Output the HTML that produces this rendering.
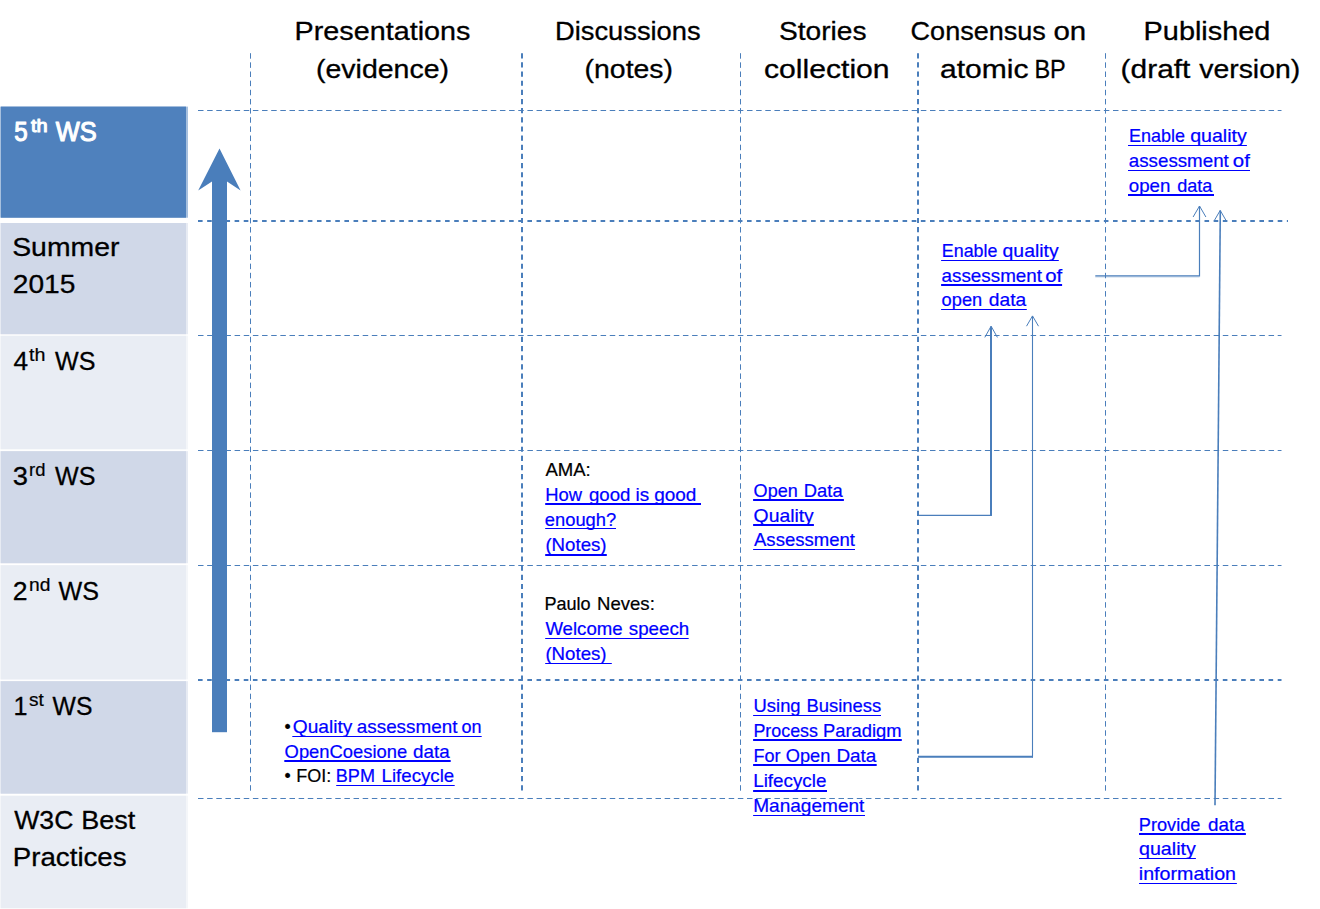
<!DOCTYPE html>
<html><head><meta charset="utf-8"><title>Workshop roadmap</title>
<style>html,body{margin:0;padding:0;background:#fff;}body{width:1320px;height:909px;overflow:hidden;}svg{display:block;}text{font-family:"Liberation Sans",sans-serif;}</style>
</head><body>
<svg width="1320" height="909" viewBox="0 0 1320 909">
<rect x="0" y="0" width="1320" height="909" fill="#ffffff"/>
<rect x="0" y="106.6" width="188" height="111.1" fill="#4F81BD" opacity="0.5"/>
<rect x="1" y="106.6" width="185" height="111.1" fill="#4F81BD"/>
<rect x="0" y="223.0" width="188" height="111.2" fill="#D0D8E8" opacity="0.5"/>
<rect x="1" y="223.0" width="185" height="111.2" fill="#D0D8E8"/>
<rect x="0" y="335.8" width="188" height="113.4" fill="#E9EDF4" opacity="0.5"/>
<rect x="1" y="335.8" width="185" height="113.4" fill="#E9EDF4"/>
<rect x="0" y="451.2" width="188" height="112.0" fill="#D0D8E8" opacity="0.5"/>
<rect x="1" y="451.2" width="185" height="112.0" fill="#D0D8E8"/>
<rect x="0" y="565.2" width="188" height="114.2" fill="#E9EDF4" opacity="0.5"/>
<rect x="1" y="565.2" width="185" height="114.2" fill="#E9EDF4"/>
<rect x="0" y="681.2" width="188" height="112.4" fill="#D0D8E8" opacity="0.5"/>
<rect x="1" y="681.2" width="185" height="112.4" fill="#D0D8E8"/>
<rect x="0" y="795.8" width="188" height="112.4" fill="#E9EDF4" opacity="0.5"/>
<rect x="1" y="795.8" width="185" height="112.4" fill="#E9EDF4"/>
<line x1="198" y1="110.5" x2="1281.5" y2="110.5" stroke="#4A7EBB" stroke-width="1" stroke-dasharray="5.5 3.65"/>
<line x1="198" y1="221" x2="1288" y2="221" stroke="#4A7EBB" stroke-width="2" stroke-dasharray="4.6 4.55"/>
<line x1="198" y1="335.5" x2="1281.5" y2="335.5" stroke="#4A7EBB" stroke-width="1" stroke-dasharray="5.5 3.65"/>
<line x1="198" y1="450.5" x2="1281.5" y2="450.5" stroke="#4A7EBB" stroke-width="1" stroke-dasharray="5.5 3.65"/>
<line x1="198" y1="565.5" x2="1281.5" y2="565.5" stroke="#4A7EBB" stroke-width="1" stroke-dasharray="5.5 3.65"/>
<line x1="198" y1="680" x2="1281.5" y2="680" stroke="#4A7EBB" stroke-width="2" stroke-dasharray="4.6 4.55"/>
<line x1="198" y1="798.5" x2="1281.5" y2="798.5" stroke="#4A7EBB" stroke-width="1" stroke-dasharray="5.5 3.65"/>
<line x1="250.5" y1="53.2" x2="250.5" y2="791.6" stroke="#4A7EBB" stroke-width="1" stroke-dasharray="5.5 3.65"/>
<line x1="522" y1="53.2" x2="522" y2="791.6" stroke="#4A7EBB" stroke-width="2" stroke-dasharray="5.2 3.95"/>
<line x1="740.5" y1="53.2" x2="740.5" y2="791.6" stroke="#4A7EBB" stroke-width="1" stroke-dasharray="5.5 3.65"/>
<line x1="918" y1="53.2" x2="918" y2="791.6" stroke="#4A7EBB" stroke-width="2" stroke-dasharray="5.2 3.95"/>
<line x1="1105.5" y1="53.2" x2="1105.5" y2="791.6" stroke="#4A7EBB" stroke-width="1" stroke-dasharray="5.5 3.65"/>
<rect x="212" y="180" width="15" height="552.2" fill="#4A7EBB"/>
<polygon points="219.5,148.5 240.6,190.4 227,181.4 212,181.4 198.2,190.4" fill="#4A7EBB"/>
<polyline points="1095.3,275.9 1199.5,275.9 1199.5,206" fill="none" stroke="#4A7EBB" stroke-width="1.2"/>
<line x1="1095.3" y1="277" x2="1199.5" y2="277" stroke="#4A7EBB" stroke-width="1" opacity="0.3"/>
<polyline points="1193.1,217 1199.5,206 1205.9,217" fill="none" stroke="#4A7EBB" stroke-width="1"/>
<line x1="1215" y1="805.3" x2="1220.3" y2="210.5" stroke="#4A7EBB" stroke-width="1.6"/>
<polyline points="1214.4,220.4 1220.2,210.4 1226.0,220.4" fill="none" stroke="#4A7EBB" stroke-width="1"/>
<line x1="917" y1="515.3" x2="991.8" y2="515.3" stroke="#4A7EBB" stroke-width="1.2"/>
<line x1="991" y1="515.8" x2="991" y2="326.5" stroke="#4A7EBB" stroke-width="2"/>
<polyline points="984.8000000000001,337.4 991.1,326.2 997.4,337.4" fill="none" stroke="#4A7EBB" stroke-width="1"/>
<line x1="918" y1="756.7" x2="1033" y2="756.7" stroke="#4A7EBB" stroke-width="2"/>
<line x1="1032.5" y1="757.5" x2="1032.5" y2="316" stroke="#4A7EBB" stroke-width="1.1"/>
<polyline points="1026.5,326.2 1032.5,315.9 1038.5,326.2" fill="none" stroke="#4A7EBB" stroke-width="1"/>
<text id="t0" x="294.60" y="40.00" font-size="25.8" fill="#000000" stroke="#000000" stroke-width="0.3" stroke-linejoin="round" textLength="175.80" lengthAdjust="spacingAndGlyphs">Presentations</text>
<text id="t1" x="316.00" y="77.60" font-size="25.8" fill="#000000" stroke="#000000" stroke-width="0.3" stroke-linejoin="round" textLength="133.00" lengthAdjust="spacingAndGlyphs">(evidence)</text>
<text id="t2" x="555.00" y="40.00" font-size="25.8" fill="#000000" stroke="#000000" stroke-width="0.3" stroke-linejoin="round" textLength="145.60" lengthAdjust="spacingAndGlyphs">Discussions</text>
<text id="t3" x="584.60" y="77.60" font-size="25.8" fill="#000000" stroke="#000000" stroke-width="0.3" stroke-linejoin="round" textLength="88.40" lengthAdjust="spacingAndGlyphs">(notes)</text>
<text id="t4" x="779.00" y="40.00" font-size="25.8" fill="#000000" stroke="#000000" stroke-width="0.3" stroke-linejoin="round" textLength="87.60" lengthAdjust="spacingAndGlyphs">Stories</text>
<text id="t5" x="764.00" y="77.60" font-size="25.8" fill="#000000" stroke="#000000" stroke-width="0.3" stroke-linejoin="round" textLength="125.60" lengthAdjust="spacingAndGlyphs">collection</text>
<text id="t6" x="910.60" y="40.00" font-size="25.8" fill="#000000" stroke="#000000" stroke-width="0.3" stroke-linejoin="round" textLength="135.20" lengthAdjust="spacingAndGlyphs">Consensus</text>
<text id="t7" x="1053.40" y="40.00" font-size="25.8" fill="#000000" stroke="#000000" stroke-width="0.3" stroke-linejoin="round" textLength="32.80" lengthAdjust="spacingAndGlyphs">on</text>
<text id="t8" x="940.00" y="77.60" font-size="25.8" fill="#000000" stroke="#000000" stroke-width="0.3" stroke-linejoin="round" textLength="88.60" lengthAdjust="spacingAndGlyphs">atomic</text>
<text id="t9" x="1034.40" y="77.60" font-size="25.8" fill="#000000" stroke="#000000" stroke-width="0.3" stroke-linejoin="round" textLength="31.40" lengthAdjust="spacingAndGlyphs">BP</text>
<text id="t10" x="1143.60" y="40.00" font-size="25.8" fill="#000000" stroke="#000000" stroke-width="0.3" stroke-linejoin="round" textLength="126.80" lengthAdjust="spacingAndGlyphs">Published</text>
<text id="t11" x="1120.60" y="77.60" font-size="25.8" fill="#000000" stroke="#000000" stroke-width="0.3" stroke-linejoin="round" textLength="69.80" lengthAdjust="spacingAndGlyphs">(draft</text>
<text id="t12" x="1199.20" y="77.60" font-size="25.8" fill="#000000" stroke="#000000" stroke-width="0.3" stroke-linejoin="round" textLength="101.00" lengthAdjust="spacingAndGlyphs">version)</text>
<text id="t13" x="14.20" y="140.70" font-size="26.8" fill="#FFFFFF" stroke="#FFFFFF" stroke-width="1.1" stroke-linejoin="round" textLength="13.40" lengthAdjust="spacingAndGlyphs">5</text>
<text id="t14" x="31.00" y="131.50" font-size="18.6" fill="#FFFFFF" stroke="#FFFFFF" stroke-width="1.1" stroke-linejoin="round" textLength="16.60" lengthAdjust="spacingAndGlyphs">th</text>
<text id="t15" x="55.80" y="140.70" font-size="26.8" fill="#FFFFFF" stroke="#FFFFFF" stroke-width="1.1" stroke-linejoin="round" textLength="41.00" lengthAdjust="spacingAndGlyphs">WS</text>
<text id="t16" x="12.20" y="255.70" font-size="25.8" fill="#000000" stroke="#000000" stroke-width="0.3" stroke-linejoin="round" textLength="107.20" lengthAdjust="spacingAndGlyphs">Summer</text>
<text id="t17" x="12.80" y="292.90" font-size="25.8" fill="#000000" stroke="#000000" stroke-width="0.3" stroke-linejoin="round" textLength="62.60" lengthAdjust="spacingAndGlyphs">2015</text>
<text id="t18" x="13.60" y="369.80" font-size="25.8" fill="#000000" stroke="#000000" stroke-width="0.3" stroke-linejoin="round" textLength="14.60" lengthAdjust="spacingAndGlyphs">4</text>
<text id="t19" x="29.00" y="360.80" font-size="18.6" fill="#000000" stroke="#000000" stroke-width="0.22" stroke-linejoin="round" textLength="16.40" lengthAdjust="spacingAndGlyphs">th</text>
<text id="t20" x="55.00" y="369.80" font-size="25.8" fill="#000000" stroke="#000000" stroke-width="0.3" stroke-linejoin="round" textLength="40.40" lengthAdjust="spacingAndGlyphs">WS</text>
<text id="t21" x="12.80" y="484.80" font-size="25.8" fill="#000000" stroke="#000000" stroke-width="0.3" stroke-linejoin="round" textLength="15.20" lengthAdjust="spacingAndGlyphs">3</text>
<text id="t22" x="29.00" y="475.80" font-size="18.6" fill="#000000" stroke="#000000" stroke-width="0.22" stroke-linejoin="round" textLength="16.40" lengthAdjust="spacingAndGlyphs">rd</text>
<text id="t23" x="55.00" y="484.80" font-size="25.8" fill="#000000" stroke="#000000" stroke-width="0.3" stroke-linejoin="round" textLength="40.40" lengthAdjust="spacingAndGlyphs">WS</text>
<text id="t24" x="12.80" y="599.80" font-size="25.8" fill="#000000" stroke="#000000" stroke-width="0.3" stroke-linejoin="round" textLength="14.80" lengthAdjust="spacingAndGlyphs">2</text>
<text id="t25" x="29.00" y="590.60" font-size="18.6" fill="#000000" stroke="#000000" stroke-width="0.22" stroke-linejoin="round" textLength="21.40" lengthAdjust="spacingAndGlyphs">nd</text>
<text id="t26" x="58.60" y="599.80" font-size="25.8" fill="#000000" stroke="#000000" stroke-width="0.3" stroke-linejoin="round" textLength="40.40" lengthAdjust="spacingAndGlyphs">WS</text>
<text id="t27" x="13.60" y="714.80" font-size="25.8" fill="#000000" stroke="#000000" stroke-width="0.3" stroke-linejoin="round" textLength="14.00" lengthAdjust="spacingAndGlyphs">1</text>
<text id="t28" x="29.00" y="705.60" font-size="18.6" fill="#000000" stroke="#000000" stroke-width="0.22" stroke-linejoin="round" textLength="14.80" lengthAdjust="spacingAndGlyphs">st</text>
<text id="t29" x="52.60" y="714.80" font-size="25.8" fill="#000000" stroke="#000000" stroke-width="0.3" stroke-linejoin="round" textLength="39.80" lengthAdjust="spacingAndGlyphs">WS</text>
<text id="t30" x="14.20" y="828.70" font-size="25.8" fill="#000000" stroke="#000000" stroke-width="0.3" stroke-linejoin="round" textLength="59.20" lengthAdjust="spacingAndGlyphs">W3C</text>
<text id="t31" x="81.20" y="828.70" font-size="25.8" fill="#000000" stroke="#000000" stroke-width="0.3" stroke-linejoin="round" textLength="54.00" lengthAdjust="spacingAndGlyphs">Best</text>
<text id="t32" x="12.80" y="866.30" font-size="25.8" fill="#000000" stroke="#000000" stroke-width="0.3" stroke-linejoin="round" textLength="113.80" lengthAdjust="spacingAndGlyphs">Practices</text>
<text id="t33" x="1129.00" y="142.00" font-size="17.9" fill="#0000FF" stroke="#0000FF" stroke-width="0.22" stroke-linejoin="round" textLength="56.00" lengthAdjust="spacingAndGlyphs">Enable</text>
<text id="t34" x="1190.20" y="142.00" font-size="17.9" fill="#0000FF" stroke="#0000FF" stroke-width="0.22" stroke-linejoin="round" textLength="56.60" lengthAdjust="spacingAndGlyphs">quality</text>
<text id="t35" x="1128.80" y="167.00" font-size="17.9" fill="#0000FF" stroke="#0000FF" stroke-width="0.22" stroke-linejoin="round" textLength="100.00" lengthAdjust="spacingAndGlyphs">assessment</text>
<text id="t36" x="1232.80" y="167.00" font-size="17.9" fill="#0000FF" stroke="#0000FF" stroke-width="0.22" stroke-linejoin="round" textLength="17.00" lengthAdjust="spacingAndGlyphs">of</text>
<text id="t37" x="1128.80" y="192.00" font-size="17.9" fill="#0000FF" stroke="#0000FF" stroke-width="0.22" stroke-linejoin="round" textLength="41.60" lengthAdjust="spacingAndGlyphs">open</text>
<text id="t38" x="1177.20" y="192.00" font-size="17.9" fill="#0000FF" stroke="#0000FF" stroke-width="0.22" stroke-linejoin="round" textLength="35.20" lengthAdjust="spacingAndGlyphs">data</text>
<text id="t39" x="941.80" y="257.00" font-size="17.9" fill="#0000FF" stroke="#0000FF" stroke-width="0.22" stroke-linejoin="round" textLength="55.60" lengthAdjust="spacingAndGlyphs">Enable</text>
<text id="t40" x="1002.60" y="257.00" font-size="17.9" fill="#0000FF" stroke="#0000FF" stroke-width="0.22" stroke-linejoin="round" textLength="56.00" lengthAdjust="spacingAndGlyphs">quality</text>
<text id="t41" x="941.60" y="282.00" font-size="17.9" fill="#0000FF" stroke="#0000FF" stroke-width="0.22" stroke-linejoin="round" textLength="100.40" lengthAdjust="spacingAndGlyphs">assessment</text>
<text id="t42" x="1045.20" y="282.00" font-size="17.9" fill="#0000FF" stroke="#0000FF" stroke-width="0.22" stroke-linejoin="round" textLength="17.00" lengthAdjust="spacingAndGlyphs">of</text>
<text id="t43" x="941.60" y="306.00" font-size="17.9" fill="#0000FF" stroke="#0000FF" stroke-width="0.22" stroke-linejoin="round" textLength="40.60" lengthAdjust="spacingAndGlyphs">open</text>
<text id="t44" x="988.80" y="306.00" font-size="17.9" fill="#0000FF" stroke="#0000FF" stroke-width="0.22" stroke-linejoin="round" textLength="37.40" lengthAdjust="spacingAndGlyphs">data</text>
<text id="t45" x="545.40" y="476.00" font-size="17.9" fill="#000000" stroke="#000000" stroke-width="0.22" stroke-linejoin="round" textLength="45.40" lengthAdjust="spacingAndGlyphs">AMA:</text>
<text id="t46" x="545.20" y="501.00" font-size="17.9" fill="#0000FF" stroke="#0000FF" stroke-width="0.22" stroke-linejoin="round" textLength="36.80" lengthAdjust="spacingAndGlyphs">How</text>
<text id="t47" x="589.00" y="501.00" font-size="17.9" fill="#0000FF" stroke="#0000FF" stroke-width="0.22" stroke-linejoin="round" textLength="41.40" lengthAdjust="spacingAndGlyphs">good</text>
<text id="t48" x="635.60" y="501.00" font-size="17.9" fill="#0000FF" stroke="#0000FF" stroke-width="0.22" stroke-linejoin="round" textLength="13.60" lengthAdjust="spacingAndGlyphs">is</text>
<text id="t49" x="654.20" y="501.00" font-size="17.9" fill="#0000FF" stroke="#0000FF" stroke-width="0.22" stroke-linejoin="round" textLength="42.20" lengthAdjust="spacingAndGlyphs">good</text>
<text id="t50" x="544.80" y="525.50" font-size="17.9" fill="#0000FF" stroke="#0000FF" stroke-width="0.22" stroke-linejoin="round" textLength="71.40" lengthAdjust="spacingAndGlyphs">enough?</text>
<text id="t51" x="545.40" y="551.00" font-size="17.9" fill="#0000FF" stroke="#0000FF" stroke-width="0.22" stroke-linejoin="round" textLength="61.20" lengthAdjust="spacingAndGlyphs">(Notes)</text>
<text id="t52" x="544.40" y="610.00" font-size="17.9" fill="#000000" stroke="#000000" stroke-width="0.22" stroke-linejoin="round" textLength="46.20" lengthAdjust="spacingAndGlyphs">Paulo</text>
<text id="t53" x="597.00" y="610.00" font-size="17.9" fill="#000000" stroke="#000000" stroke-width="0.22" stroke-linejoin="round" textLength="57.80" lengthAdjust="spacingAndGlyphs">Neves:</text>
<text id="t54" x="545.40" y="635.00" font-size="17.9" fill="#0000FF" stroke="#0000FF" stroke-width="0.22" stroke-linejoin="round" textLength="77.20" lengthAdjust="spacingAndGlyphs">Welcome</text>
<text id="t55" x="628.80" y="635.00" font-size="17.9" fill="#0000FF" stroke="#0000FF" stroke-width="0.22" stroke-linejoin="round" textLength="60.40" lengthAdjust="spacingAndGlyphs">speech</text>
<text id="t56" x="545.40" y="660.00" font-size="17.9" fill="#0000FF" stroke="#0000FF" stroke-width="0.22" stroke-linejoin="round" textLength="61.20" lengthAdjust="spacingAndGlyphs">(Notes)</text>
<text id="t57" x="753.60" y="497.00" font-size="17.9" fill="#0000FF" stroke="#0000FF" stroke-width="0.22" stroke-linejoin="round" textLength="44.20" lengthAdjust="spacingAndGlyphs">Open</text>
<text id="t58" x="803.80" y="497.00" font-size="17.9" fill="#0000FF" stroke="#0000FF" stroke-width="0.22" stroke-linejoin="round" textLength="38.80" lengthAdjust="spacingAndGlyphs">Data</text>
<text id="t59" x="753.60" y="522.00" font-size="17.9" fill="#0000FF" stroke="#0000FF" stroke-width="0.22" stroke-linejoin="round" textLength="60.20" lengthAdjust="spacingAndGlyphs">Quality</text>
<text id="t60" x="754.00" y="546.00" font-size="17.9" fill="#0000FF" stroke="#0000FF" stroke-width="0.22" stroke-linejoin="round" textLength="101.00" lengthAdjust="spacingAndGlyphs">Assessment</text>
<text id="t61" x="753.60" y="712.00" font-size="17.9" fill="#0000FF" stroke="#0000FF" stroke-width="0.22" stroke-linejoin="round" textLength="47.00" lengthAdjust="spacingAndGlyphs">Using</text>
<text id="t62" x="806.40" y="712.00" font-size="17.9" fill="#0000FF" stroke="#0000FF" stroke-width="0.22" stroke-linejoin="round" textLength="74.80" lengthAdjust="spacingAndGlyphs">Business</text>
<text id="t63" x="753.40" y="736.70" font-size="17.9" fill="#0000FF" stroke="#0000FF" stroke-width="0.22" stroke-linejoin="round" textLength="64.60" lengthAdjust="spacingAndGlyphs">Process</text>
<text id="t64" x="823.00" y="736.70" font-size="17.9" fill="#0000FF" stroke="#0000FF" stroke-width="0.22" stroke-linejoin="round" textLength="78.60" lengthAdjust="spacingAndGlyphs">Paradigm</text>
<text id="t65" x="753.40" y="761.70" font-size="17.9" fill="#0000FF" stroke="#0000FF" stroke-width="0.22" stroke-linejoin="round" textLength="27.00" lengthAdjust="spacingAndGlyphs">For</text>
<text id="t66" x="785.80" y="761.70" font-size="17.9" fill="#0000FF" stroke="#0000FF" stroke-width="0.22" stroke-linejoin="round" textLength="44.60" lengthAdjust="spacingAndGlyphs">Open</text>
<text id="t67" x="836.40" y="761.70" font-size="17.9" fill="#0000FF" stroke="#0000FF" stroke-width="0.22" stroke-linejoin="round" textLength="40.00" lengthAdjust="spacingAndGlyphs">Data</text>
<text id="t68" x="753.20" y="787.30" font-size="17.9" fill="#0000FF" stroke="#0000FF" stroke-width="0.22" stroke-linejoin="round" textLength="73.20" lengthAdjust="spacingAndGlyphs">Lifecycle</text>
<text id="t69" x="753.20" y="811.80" font-size="17.9" fill="#0000FF" stroke="#0000FF" stroke-width="0.22" stroke-linejoin="round" textLength="111.20" lengthAdjust="spacingAndGlyphs">Management</text>
<text id="t70" x="284.60" y="733.20" font-size="17.9" fill="#000000" stroke="#000000" stroke-width="0.22" stroke-linejoin="round" textLength="6.20" lengthAdjust="spacingAndGlyphs">&#8226;</text>
<text id="t71" x="292.80" y="733.20" font-size="17.9" fill="#0000FF" stroke="#0000FF" stroke-width="0.22" stroke-linejoin="round" textLength="59.60" lengthAdjust="spacingAndGlyphs">Quality</text>
<text id="t72" x="356.80" y="733.20" font-size="17.9" fill="#0000FF" stroke="#0000FF" stroke-width="0.22" stroke-linejoin="round" textLength="100.60" lengthAdjust="spacingAndGlyphs">assessment</text>
<text id="t73" x="461.60" y="733.20" font-size="17.9" fill="#0000FF" stroke="#0000FF" stroke-width="0.22" stroke-linejoin="round" textLength="20.00" lengthAdjust="spacingAndGlyphs">on</text>
<text id="t74" x="284.60" y="758.00" font-size="17.9" fill="#0000FF" stroke="#0000FF" stroke-width="0.22" stroke-linejoin="round" textLength="122.60" lengthAdjust="spacingAndGlyphs">OpenCoesione</text>
<text id="t75" x="413.00" y="758.00" font-size="17.9" fill="#0000FF" stroke="#0000FF" stroke-width="0.22" stroke-linejoin="round" textLength="36.60" lengthAdjust="spacingAndGlyphs">data</text>
<text id="t76" x="284.60" y="782.00" font-size="17.9" fill="#000000" stroke="#000000" stroke-width="0.22" stroke-linejoin="round" textLength="6.20" lengthAdjust="spacingAndGlyphs">&#8226;</text>
<text id="t77" x="296.20" y="782.00" font-size="17.9" fill="#000000" stroke="#000000" stroke-width="0.22" stroke-linejoin="round" textLength="35.00" lengthAdjust="spacingAndGlyphs">FOI:</text>
<text id="t78" x="335.80" y="782.00" font-size="17.9" fill="#0000FF" stroke="#0000FF" stroke-width="0.22" stroke-linejoin="round" textLength="39.20" lengthAdjust="spacingAndGlyphs">BPM</text>
<text id="t79" x="381.60" y="782.00" font-size="17.9" fill="#0000FF" stroke="#0000FF" stroke-width="0.22" stroke-linejoin="round" textLength="72.60" lengthAdjust="spacingAndGlyphs">Lifecycle</text>
<text id="t80" x="1138.80" y="830.80" font-size="17.9" fill="#0000FF" stroke="#0000FF" stroke-width="0.22" stroke-linejoin="round" textLength="61.60" lengthAdjust="spacingAndGlyphs">Provide</text>
<text id="t81" x="1208.00" y="830.80" font-size="17.9" fill="#0000FF" stroke="#0000FF" stroke-width="0.22" stroke-linejoin="round" textLength="36.60" lengthAdjust="spacingAndGlyphs">data</text>
<text id="t82" x="1139.00" y="855.00" font-size="17.9" fill="#0000FF" stroke="#0000FF" stroke-width="0.22" stroke-linejoin="round" textLength="56.80" lengthAdjust="spacingAndGlyphs">quality</text>
<text id="t83" x="1138.80" y="880.00" font-size="17.9" fill="#0000FF" stroke="#0000FF" stroke-width="0.22" stroke-linejoin="round" textLength="97.20" lengthAdjust="spacingAndGlyphs">information</text>
<line x1="1128.0" y1="145.5" x2="1246.9" y2="145.5" stroke="#0000FF" stroke-width="1"/>
<line x1="1128.0" y1="170.5" x2="1250.0" y2="170.5" stroke="#0000FF" stroke-width="1"/>
<line x1="1128.0" y1="195" x2="1214.0" y2="195" stroke="#0000FF" stroke-width="2"/>
<line x1="941.1" y1="260.5" x2="1058.8" y2="260.5" stroke="#0000FF" stroke-width="1"/>
<line x1="941.1" y1="285" x2="1062.1" y2="285" stroke="#0000FF" stroke-width="2"/>
<line x1="941.1" y1="309.5" x2="1026.8" y2="309.5" stroke="#0000FF" stroke-width="1"/>
<line x1="545.2" y1="504" x2="701.0" y2="504" stroke="#0000FF" stroke-width="2"/>
<line x1="545.2" y1="528.5" x2="616.0" y2="528.5" stroke="#0000FF" stroke-width="1"/>
<line x1="545.2" y1="555" x2="606.8" y2="555" stroke="#0000FF" stroke-width="2"/>
<line x1="545.2" y1="638.5" x2="688.7" y2="638.5" stroke="#0000FF" stroke-width="1"/>
<line x1="545.2" y1="663.5" x2="611.8" y2="663.5" stroke="#0000FF" stroke-width="1"/>
<line x1="753.1" y1="500" x2="843.9" y2="500" stroke="#0000FF" stroke-width="2"/>
<line x1="753.1" y1="525" x2="813.9" y2="525" stroke="#0000FF" stroke-width="2"/>
<line x1="753.1" y1="549.5" x2="855.0" y2="549.5" stroke="#0000FF" stroke-width="1"/>
<line x1="753.1" y1="715.5" x2="881.0" y2="715.5" stroke="#0000FF" stroke-width="1"/>
<line x1="753.1" y1="740" x2="901.8" y2="740" stroke="#0000FF" stroke-width="2"/>
<line x1="753.1" y1="765" x2="876.7" y2="765" stroke="#0000FF" stroke-width="2"/>
<line x1="753.1" y1="791" x2="827.0" y2="791" stroke="#0000FF" stroke-width="2"/>
<line x1="753.1" y1="815.5" x2="865.0" y2="815.5" stroke="#0000FF" stroke-width="1"/>
<line x1="292.3" y1="736.5" x2="481.7" y2="736.5" stroke="#0000FF" stroke-width="1"/>
<line x1="284.3" y1="761" x2="450.7" y2="761" stroke="#0000FF" stroke-width="2"/>
<line x1="336.2" y1="785.5" x2="454.7" y2="785.5" stroke="#0000FF" stroke-width="1"/>
<line x1="1139.0" y1="834" x2="1245.9" y2="834" stroke="#0000FF" stroke-width="2"/>
<line x1="1139.0" y1="858.5" x2="1195.9" y2="858.5" stroke="#0000FF" stroke-width="1"/>
<line x1="1139.0" y1="883.5" x2="1236.9" y2="883.5" stroke="#0000FF" stroke-width="1"/>
</svg></body></html>
